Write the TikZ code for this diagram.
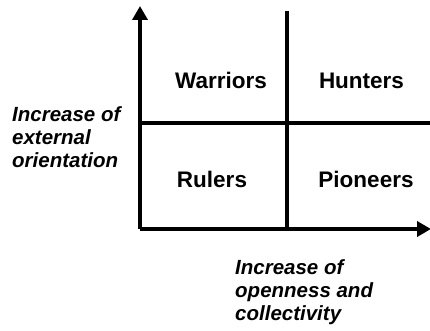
\documentclass[tikz,border=0pt]{standalone}
\usepackage{fontspec}
\setmainfont{Liberation Sans}
\usepackage{tikz}
\usetikzlibrary{arrows.meta, positioning}
\tikzset{
  axisline/.style={line width=3.5pt, -{Triangle[length=14pt, width=15pt]}},
  gridline/.style={line width=3.5pt},
  quadbox/.style={font=\bfseries\fontsize{22.5}{27}\selectfont, inner sep=0pt, anchor=base},
  axislabel/.style={font=\bfseries\itshape\fontsize{20.5}{22.75}\selectfont, align=left, inner sep=0pt, anchor=base west}
}
\begin{document}
\begin{tikzpicture}[x=1pt, y=-1pt]
  \useasboundingbox (0,0) rectangle (430,331);
  % axes
  \coordinate (origin) at (140,229);
  \coordinate (ytop) at (140,6);
  \coordinate (xend) at (431,229);
  \draw[axisline] (origin) -- (ytop);
  \draw[axisline] (origin) -- (xend);

  % dividing lines
  \coordinate (vtop) at (287,11);
  \coordinate (vbot) at (287,229);
  \coordinate (hleft) at (140,123);
  \coordinate (hright) at (430,123);
  \draw[gridline] (vtop) -- (vbot);
  \draw[gridline] (hleft) -- (hright);

  % quadrants
  \node[quadbox] (warriors) at (221,89) {Warriors};
  \node[quadbox] (hunters) at (361.5,89) {Hunters};
  \node[quadbox] (rulers) at (212,187) {Rulers};
  \node[quadbox] (pioneers) at (366,187) {Pioneers};

  % axis labels
  \node[axislabel] (ylabel) at (12,167)
       {Increase of\\external\\orientation};
  \node[axislabel] (xlabel) at (235,320)
       {Increase of\\openness and\\collectivity};
\end{tikzpicture}
\end{document}
